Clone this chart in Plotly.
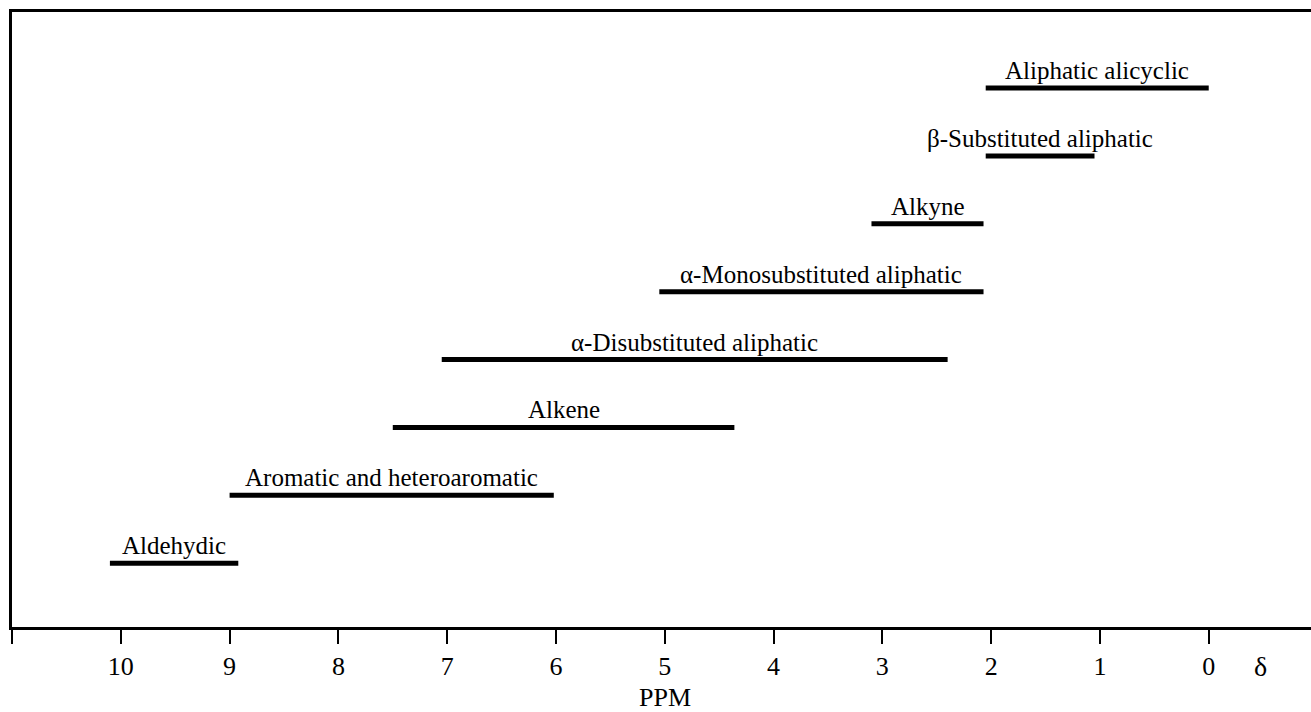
import plotly.graph_objects as go

# Data: chemical shift ranges (PPM), bottom row first
categories = [
    "Aldehydic",
    "Aromatic and heteroaromatic",
    "Alkene",
    "α-Disubstituted aliphatic",
    "α-Monosubstituted aliphatic",
    "Alkyne",
    "β-Substituted aliphatic",
    "Aliphatic alicyclic",
]
range_start = [10.1, 9.0, 7.5, 7.05, 5.05, 3.1, 2.05, 2.05]
range_end = [8.92, 6.02, 4.36, 2.4, 2.07, 2.07, 1.05, 0.0]
tick_values = [11, 10, 9, 8, 7, 6, 5, 4, 3, 2, 1, 0]
tick_labels = ["", "10", "9", "8", "7", "6", "5", "4", "3", "2", "1", "0"]

SERIF = "Liberation Serif, Times New Roman, serif"

fig = go.Figure()
annotations = []
for i, (name, s, e) in enumerate(zip(categories, range_start, range_end)):
    fig.add_trace(go.Scatter(
        x=[s, e], y=[i, i], mode="lines",
        line=dict(color="black", width=5),
        showlegend=False, hoverinfo="skip",
    ))
    annotations.append(dict(
        x=(s + e) / 2, y=i, xref="x", yref="y",
        text=name, showarrow=False, yanchor="bottom", yshift=2,
        font=dict(family=SERIF, size=25, color="black"),
    ))

annotations.append(dict(
    x=5, y=0, xref="x", yref="paper", text="PPM", showarrow=False,
    yanchor="middle", yshift=-70, font=dict(family=SERIF, size=26, color="black"),
))
annotations.append(dict(
    x=-0.48, y=0, xref="x", yref="paper", text="δ", showarrow=False,
    yanchor="middle", yshift=-39, font=dict(family=SERIF, size=28, color="black"),
))

fig.update_layout(
    width=1311, height=712,
    margin=dict(l=12, r=0, t=12, b=85),
    paper_bgcolor="white", plot_bgcolor="white",
    annotations=annotations,
    xaxis=dict(
        range=[11, -0.94], tickvals=tick_values, ticktext=tick_labels,
        ticks="outside", ticklen=14, tickwidth=1.5, tickcolor="black",
        showline=True, linewidth=3, linecolor="black", mirror=True,
        showgrid=False, zeroline=False, ticklabelstandoff=0,
        tickfont=dict(family=SERIF, size=26, color="black"),
    ),
    yaxis=dict(
        range=[-0.94, 8.12], showticklabels=False, ticks="",
        showline=True, linewidth=3, linecolor="black",
        showgrid=False, zeroline=False,
    ),
)

fig.write_html(
    "out.html",
    config={"displayModeBar": False},
    post_script="document.body.style.margin='0';",
)
